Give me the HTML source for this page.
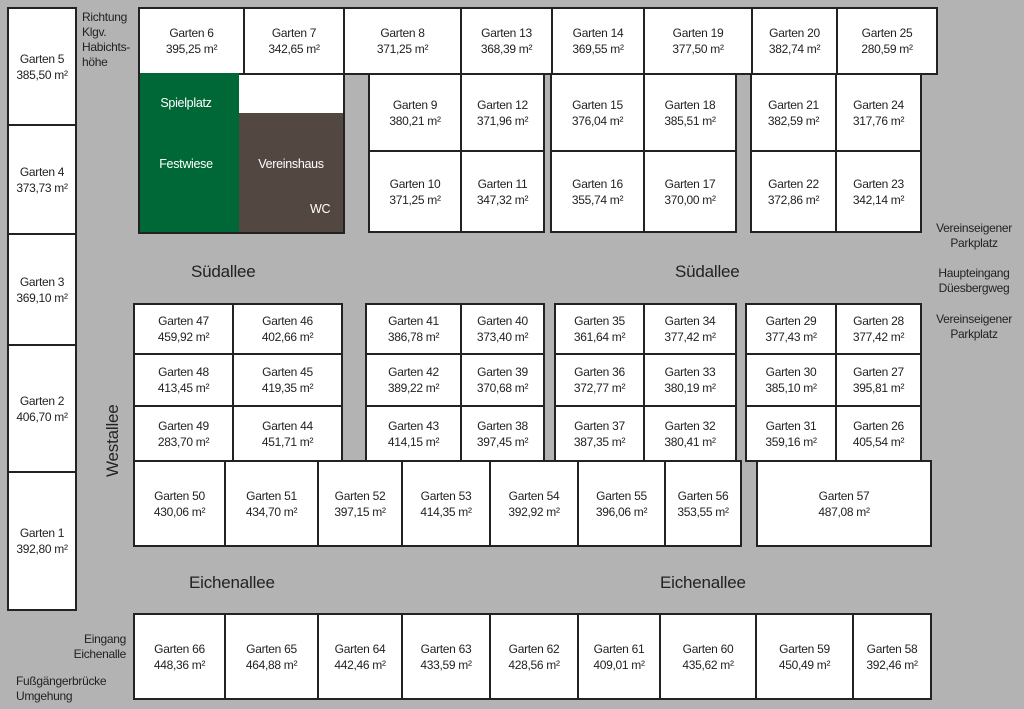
<!DOCTYPE html><html><head><meta charset="utf-8"><style>
body{margin:0;width:1024px;height:709px;background:#b3b3b3;position:relative;overflow:hidden;font-family:"Liberation Sans",sans-serif;color:#222}
.b{position:absolute;box-sizing:border-box;border:2px solid #222;background:#fff;display:flex;flex-direction:column;align-items:center;justify-content:center;font-size:12px;line-height:16px;letter-spacing:-0.3px;text-align:center}
.t{position:absolute;font-size:12px;line-height:15px;letter-spacing:-0.3px}
.s{position:absolute;font-size:17px;letter-spacing:-0.2px}
</style></head><body>
<div class="b" style="left:7px;top:7px;width:70px;height:119px">Garten 5<br>385,50 m²</div>
<div class="b" style="left:7px;top:124px;width:70px;height:111px">Garten 4<br>373,73 m²</div>
<div class="b" style="left:7px;top:233px;width:70px;height:113px">Garten 3<br>369,10 m²</div>
<div class="b" style="left:7px;top:344px;width:70px;height:129px">Garten 2<br>406,70 m²</div>
<div class="b" style="left:7px;top:471px;width:70px;height:140px">Garten 1<br>392,80 m²</div>
<div class="t" style="left:82px;top:10px">Richtung<br>Klgv.<br>Habichts-<br>höhe</div>
<div class="b" style="left:138px;top:7px;width:107px;height:68px">Garten 6<br>395,25 m²</div>
<div class="b" style="left:243px;top:7px;width:102px;height:68px">Garten 7<br>342,65 m²</div>
<div class="b" style="left:343px;top:7px;width:119px;height:68px">Garten 8<br>371,25 m²</div>
<div class="b" style="left:460px;top:7px;width:93px;height:68px">Garten 13<br>368,39 m²</div>
<div class="b" style="left:551px;top:7px;width:94px;height:68px">Garten 14<br>369,55 m²</div>
<div class="b" style="left:643px;top:7px;width:110px;height:68px">Garten 19<br>377,50 m²</div>
<div class="b" style="left:751px;top:7px;width:87px;height:68px">Garten 20<br>382,74 m²</div>
<div class="b" style="left:836px;top:7px;width:102px;height:68px">Garten 25<br>280,59 m²</div>
<div style="position:absolute;left:138px;top:73px;width:207px;height:161px;box-sizing:border-box;border:2px solid #222;background:#fff"></div>
<div style="position:absolute;left:140px;top:73px;width:99px;height:159px;background:#006837"></div>
<div style="position:absolute;left:239px;top:113px;width:104px;height:119px;background:#534741"></div>
<div class="t" style="left:140px;top:96px;width:92px;text-align:center;color:#fff;font-size:12.5px">Spielplatz</div>
<div class="t" style="left:140px;top:157px;width:92px;text-align:center;color:#fff;font-size:12.5px">Festwiese</div>
<div class="t" style="left:239px;top:157px;width:104px;text-align:center;color:#fff;font-size:12.5px">Vereinshaus</div>
<div class="t" style="left:310px;top:202px;color:#fff;font-size:12.5px">WC</div>
<div class="b" style="left:368px;top:73px;width:94px;height:79px">Garten 9<br>380,21 m²</div>
<div class="b" style="left:460px;top:73px;width:85px;height:79px">Garten 12<br>371,96 m²</div>
<div class="b" style="left:368px;top:150px;width:94px;height:83px">Garten 10<br>371,25 m²</div>
<div class="b" style="left:460px;top:150px;width:85px;height:83px">Garten 11<br>347,32 m²</div>
<div class="b" style="left:550px;top:73px;width:95px;height:79px">Garten 15<br>376,04 m²</div>
<div class="b" style="left:643px;top:73px;width:94px;height:79px">Garten 18<br>385,51 m²</div>
<div class="b" style="left:550px;top:150px;width:95px;height:83px">Garten 16<br>355,74 m²</div>
<div class="b" style="left:643px;top:150px;width:94px;height:83px">Garten 17<br>370,00 m²</div>
<div class="b" style="left:750px;top:73px;width:87px;height:79px">Garten 21<br>382,59 m²</div>
<div class="b" style="left:835px;top:73px;width:87px;height:79px">Garten 24<br>317,76 m²</div>
<div class="b" style="left:750px;top:150px;width:87px;height:83px">Garten 22<br>372,86 m²</div>
<div class="b" style="left:835px;top:150px;width:87px;height:83px">Garten 23<br>342,14 m²</div>
<div class="t" style="left:930px;top:221px;width:88px;text-align:center">Vereinseigener<br>Parkplatz</div>
<div class="t" style="left:930px;top:266px;width:88px;text-align:center">Haupteingang<br>Düesbergweg</div>
<div class="t" style="left:930px;top:312px;width:88px;text-align:center">Vereinseigener<br>Parkplatz</div>
<div class="s" style="left:191px;top:262px">Südallee</div>
<div class="s" style="left:675px;top:262px">Südallee</div>
<div class="s" style="left:189px;top:573px">Eichenallee</div>
<div class="s" style="left:660px;top:573px">Eichenallee</div>
<div class="s" style="left:78px;top:432px;transform:rotate(-90deg);transform-origin:center;width:70px;text-align:center">Westallee</div>
<div class="b" style="left:133px;top:303px;width:101px;height:52px">Garten 47<br>459,92 m²</div>
<div class="b" style="left:232px;top:303px;width:111px;height:52px">Garten 46<br>402,66 m²</div>
<div class="b" style="left:133px;top:353px;width:101px;height:54px">Garten 48<br>413,45 m²</div>
<div class="b" style="left:232px;top:353px;width:111px;height:54px">Garten 45<br>419,35 m²</div>
<div class="b" style="left:133px;top:405px;width:101px;height:57px">Garten 49<br>283,70 m²</div>
<div class="b" style="left:232px;top:405px;width:111px;height:57px">Garten 44<br>451,71 m²</div>
<div class="b" style="left:365px;top:303px;width:97px;height:52px">Garten 41<br>386,78 m²</div>
<div class="b" style="left:460px;top:303px;width:85px;height:52px">Garten 40<br>373,40 m²</div>
<div class="b" style="left:365px;top:353px;width:97px;height:54px">Garten 42<br>389,22 m²</div>
<div class="b" style="left:460px;top:353px;width:85px;height:54px">Garten 39<br>370,68 m²</div>
<div class="b" style="left:365px;top:405px;width:97px;height:57px">Garten 43<br>414,15 m²</div>
<div class="b" style="left:460px;top:405px;width:85px;height:57px">Garten 38<br>397,45 m²</div>
<div class="b" style="left:554px;top:303px;width:91px;height:52px">Garten 35<br>361,64 m²</div>
<div class="b" style="left:643px;top:303px;width:94px;height:52px">Garten 34<br>377,42 m²</div>
<div class="b" style="left:554px;top:353px;width:91px;height:54px">Garten 36<br>372,77 m²</div>
<div class="b" style="left:643px;top:353px;width:94px;height:54px">Garten 33<br>380,19 m²</div>
<div class="b" style="left:554px;top:405px;width:91px;height:57px">Garten 37<br>387,35 m²</div>
<div class="b" style="left:643px;top:405px;width:94px;height:57px">Garten 32<br>380,41 m²</div>
<div class="b" style="left:745px;top:303px;width:92px;height:52px">Garten 29<br>377,43 m²</div>
<div class="b" style="left:835px;top:303px;width:87px;height:52px">Garten 28<br>377,42 m²</div>
<div class="b" style="left:745px;top:353px;width:92px;height:54px">Garten 30<br>385,10 m²</div>
<div class="b" style="left:835px;top:353px;width:87px;height:54px">Garten 27<br>395,81 m²</div>
<div class="b" style="left:745px;top:405px;width:92px;height:57px">Garten 31<br>359,16 m²</div>
<div class="b" style="left:835px;top:405px;width:87px;height:57px">Garten 26<br>405,54 m²</div>
<div class="b" style="left:133px;top:460px;width:93px;height:87px">Garten 50<br>430,06 m²</div>
<div class="b" style="left:224px;top:460px;width:95px;height:87px">Garten 51<br>434,70 m²</div>
<div class="b" style="left:317px;top:460px;width:86px;height:87px">Garten 52<br>397,15 m²</div>
<div class="b" style="left:401px;top:460px;width:90px;height:87px">Garten 53<br>414,35 m²</div>
<div class="b" style="left:489px;top:460px;width:90px;height:87px">Garten 54<br>392,92 m²</div>
<div class="b" style="left:577px;top:460px;width:89px;height:87px">Garten 55<br>396,06 m²</div>
<div class="b" style="left:664px;top:460px;width:78px;height:87px">Garten 56<br>353,55 m²</div>
<div class="b" style="left:756px;top:460px;width:176px;height:87px">Garten 57<br>487,08 m²</div>
<div class="t" style="left:60px;top:632px;width:66px;text-align:right">Eingang<br>Eichenalle</div>
<div class="t" style="left:16px;top:674px">Fußgängerbrücke<br>Umgehung</div>
<div class="b" style="left:133px;top:613px;width:93px;height:87px">Garten 66<br>448,36 m²</div>
<div class="b" style="left:224px;top:613px;width:95px;height:87px">Garten 65<br>464,88 m²</div>
<div class="b" style="left:317px;top:613px;width:86px;height:87px">Garten 64<br>442,46 m²</div>
<div class="b" style="left:401px;top:613px;width:90px;height:87px">Garten 63<br>433,59 m²</div>
<div class="b" style="left:489px;top:613px;width:90px;height:87px">Garten 62<br>428,56 m²</div>
<div class="b" style="left:577px;top:613px;width:84px;height:87px">Garten 61<br>409,01 m²</div>
<div class="b" style="left:659px;top:613px;width:98px;height:87px">Garten 60<br>435,62 m²</div>
<div class="b" style="left:755px;top:613px;width:99px;height:87px">Garten 59<br>450,49 m²</div>
<div class="b" style="left:852px;top:613px;width:80px;height:87px">Garten 58<br>392,46 m²</div>
</body></html>
